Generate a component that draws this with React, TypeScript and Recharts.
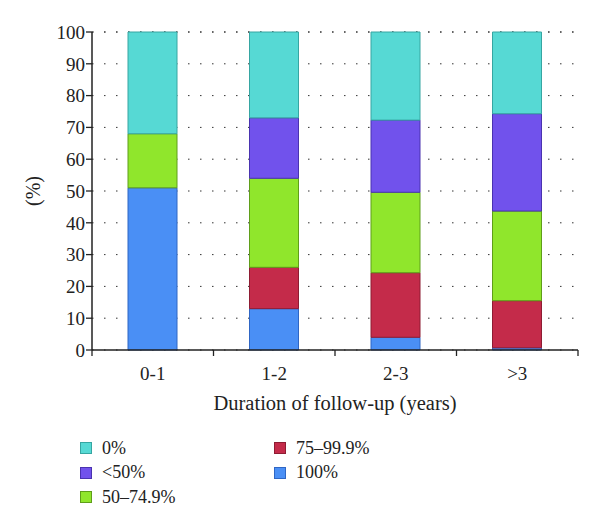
import { BarChart, Bar, XAxis, YAxis, CartesianGrid } from "recharts";

const categories = ["0-1", "1-2", "2-3", ">3"];
const full100 = [51, 13, 4, 0.7];
const p75to99 = [0, 13, 20.3, 14.8];
const p50to74 = [17, 28, 25.3, 28.2];
const below50 = [0, 19, 22.7, 30.6];
const zeroPct = [32, 27, 27.7, 25.7];
const yTicks = [0, 10, 20, 30, 40, 50, 60, 70, 80, 90, 100];

const series = [
  { key: "full100", name: "100%", values: full100, fill: "#4a8ff5", stroke: "#2f66c4" },
  { key: "p75", name: "75\u201399.9%", values: p75to99, fill: "#c42b4a", stroke: "#8e1c33" },
  { key: "p50", name: "50\u201374.9%", values: p50to74, fill: "#90e62c", stroke: "#5f9e1a" },
  { key: "lt50", name: "<50%", values: below50, fill: "#7152ec", stroke: "#4a33b0" },
  { key: "zero", name: "0%", values: zeroPct, fill: "#56d9d4", stroke: "#36a6a2" },
];

const data = categories.map((c, i) => {
  const row: Record<string, string | number> = { cat: c };
  series.forEach((s) => (row[s.key] = s.values[i]));
  return row;
});

const FONT = "'Liberation Serif', 'DejaVu Serif', serif";
const W = 592;
const H = 410;
const M = { top: 24, right: 22, left: 0, bottom: 0 };
const Y_W = 84;
const X_H = 68;
const PLOT_W = W - M.left - M.right - Y_W;
const BAND = PLOT_W / categories.length;
const AXIS_Y = H - M.bottom - X_H;

const XTick = (props: any) => {
  const { x, payload, index } = props;
  const last = index === categories.length - 1;
  return (
    <g>
      <line x1={x - BAND / 2} x2={x - BAND / 2} y1={AXIS_Y} y2={AXIS_Y + 6} stroke="#222" strokeWidth={1.3} />
      {last && (
        <line x1={x + BAND / 2} x2={x + BAND / 2} y1={AXIS_Y} y2={AXIS_Y + 6} stroke="#222" strokeWidth={1.3} />
      )}
      <text x={x} y={AXIS_Y + 23} textAnchor="middle" dominantBaseline="central" fontSize={19} fill="#222" fontFamily={FONT}>
        {payload.value}
      </text>
    </g>
  );
};

const legendLeft = [series[4], series[3], series[2]];
const legendRight = [series[1], series[0]];

const LegendItem = ({ s }: { s: (typeof series)[number] }) => (
  <div style={{ display: "flex", alignItems: "center", height: 24.5 }}>
    <span
      style={{
        width: 10,
        height: 10,
        background: s.fill,
        border: `1.5px solid ${s.stroke}`,
        display: "inline-block",
        marginRight: 10,
        flexShrink: 0,
      }}
    />
    <span style={{ fontSize: 18, color: "#222", fontFamily: FONT }}>{s.name}</span>
  </div>
);

export default function App() {
  return (
    <div style={{ width: W, fontFamily: FONT }}>
      <BarChart width={W} height={H} data={data} margin={M} barSize={49}>
        <CartesianGrid horizontal vertical={false} stroke="#333" strokeDasharray="1.5 10.5" />
        <XAxis
          dataKey="cat"
          height={X_H}
          tickLine={false}
          axisLine={{ stroke: "#222", strokeWidth: 1.5 }}
          tick={<XTick />}
          interval={0}
          label={{
            content: ({ viewBox }: any) => (
              <text
                x={viewBox.x + viewBox.width / 2}
                y={viewBox.y + 53}
                textAnchor="middle"
                dominantBaseline="central"
                fontSize={20.5}
                fill="#222"
                fontFamily={FONT}
              >
                Duration of follow-up (years)
              </text>
            ),
          }}
        />
        <YAxis
          width={Y_W}
          domain={[0, 100]}
          ticks={yTicks}
          interval={0}
          tickSize={6}
          tickMargin={1}
          tick={{ fontSize: 19, fill: "#222", fontFamily: FONT }}
          tickLine={{ stroke: "#222", strokeWidth: 1.3 }}
          axisLine={{ stroke: "#222", strokeWidth: 1.5 }}
          label={{
            content: ({ viewBox }: any) => {
              const cx = viewBox.x + 25;
              const cy = viewBox.y + viewBox.height / 2;
              return (
                <text
                  x={cx}
                  y={cy}
                  transform={`rotate(-90 ${cx} ${cy})`}
                  textAnchor="middle"
                  dominantBaseline="central"
                  fontSize={20}
                  fill="#222"
                  fontFamily={FONT}
                >
                  (%)
                </text>
              );
            },
          }}
        />
        {series.map((s) => (
          <Bar
            key={s.key}
            dataKey={s.key}
            name={s.name}
            stackId="a"
            fill={s.fill}
            stroke={s.stroke}
            strokeWidth={1}
            isAnimationActive={false}
          />
        ))}
      </BarChart>
      <div style={{ marginTop: 18, marginLeft: 72, display: "flex" }}>
        <div style={{ width: 194 }}>
          {legendLeft.map((s) => (
            <LegendItem key={s.key} s={s} />
          ))}
        </div>
        <div>
          {legendRight.map((s) => (
            <LegendItem key={s.key} s={s} />
          ))}
        </div>
      </div>
    </div>
  );
}
